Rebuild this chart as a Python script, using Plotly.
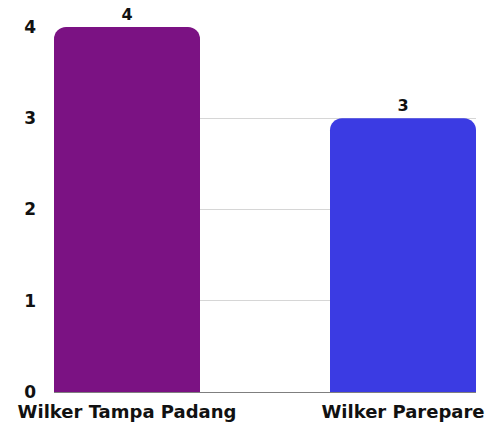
import plotly.graph_objects as go

categories = ["Wilker Tampa Padang", "Wilker Parepare"]
values = [4, 3]
colors = ["#7b1283", "#3b3be3"]
y_ticks = [0, 1, 2, 3, 4]

fig = go.Figure(
    go.Bar(
        x=categories,
        y=values,
        marker=dict(color=colors, line=dict(width=0)),
        text=values,
        textposition="outside",
        cliponaxis=False,
        textfont=dict(size=16, color="#111111", weight=700),
    )
)

fig.update_layout(
    width=501,
    height=428,
    margin=dict(l=54, r=25, t=27, b=36, autoexpand=False),
    paper_bgcolor="white",
    plot_bgcolor="white",
    font=dict(family="DejaVu Sans, sans-serif", size=17, color="#111111", weight=700),
    bargap=0.471,
    barcornerradius=12,
    showlegend=False,
    xaxis=dict(
        range=[-0.2645, 1.2645],
        showgrid=False,
        showline=False,
        ticks="",
        tickfont=dict(size=18),
        ticklabelstandoff=7,
        automargin=False,
    ),
    yaxis=dict(
        range=[0, 4],
        tickvals=y_ticks,
        showgrid=True,
        gridcolor="#d6d6d6",
        gridwidth=1,
        zeroline=True,
        zerolinecolor="#7f7f7f",
        zerolinewidth=1,
        ticks="",
        ticklabelstandoff=17,
        automargin=False,
    ),
)

# drop the default 8px body margin so the figure fills the window
fig.write_html(
    "out.html",
    config={"displayModeBar": False},
    post_script="document.body.style.margin='0';document.body.style.overflow='hidden';",
)
